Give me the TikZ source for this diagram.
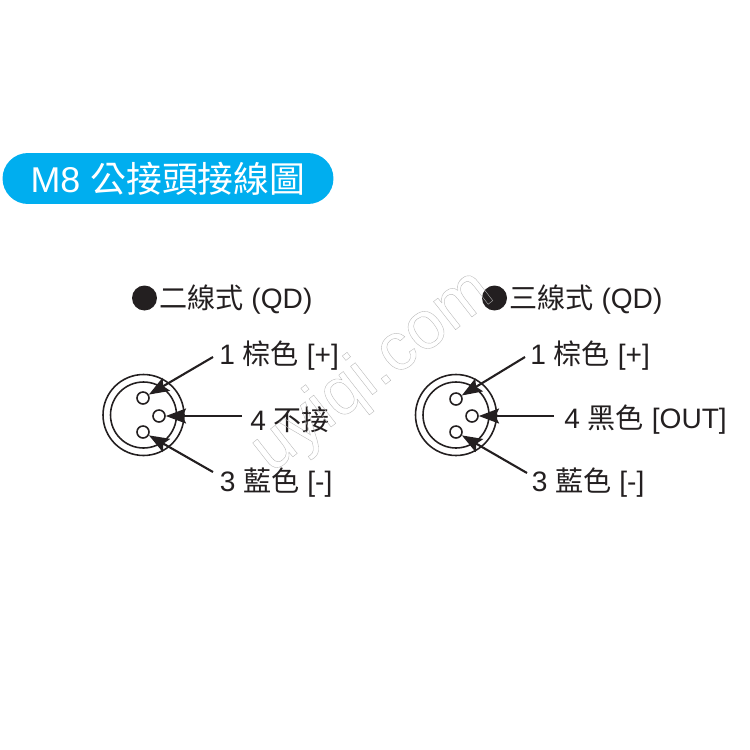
\documentclass[tikz,border=0pt]{standalone}
\usepackage{fontspec}
\setmainfont{Liberation Sans}
\newfontfamily\cjk{Noto Sans CJK TC}
\usetikzlibrary{arrows.meta}
\definecolor{bannerblue}{RGB}{0,174,239}
\definecolor{inktext}{RGB}{35,31,32}
\newcommand{\outlined}[1]{\special{pdf:code q 1 Tr 0.22 w 0.72 G}#1\special{pdf:code Q}}
\tikzset{
	banner/.style={fill=bannerblue, rounded corners=0.51cm, minimum width=6.62cm, minimum height=1.02cm, inner sep=0, text=white, font=\fontsize{20.4}{20.4}\selectfont},
	pinlabel/.style={anchor=west, inner sep=0, font=\fontsize{16}{16}\selectfont, text=inktext},
	bullet/.style={fill=inktext, circle, inner sep=0, minimum size=0.5cm},
	outerring/.style={draw=inktext, line width=0.9pt, circle, inner sep=0, minimum size=1.62cm},
	innerring/.style={draw=inktext, line width=0.9pt, circle, inner sep=0, minimum size=1.32cm},
	pinhole/.style={draw=inktext, line width=0.9pt, circle, inner sep=0, minimum size=0.24cm},
	lead/.style={draw=inktext, line width=1.2pt, -{Stealth[length=11.5pt, width=8.5pt, inset=2pt]}}
}
\begin{document}
\begin{tikzpicture}[x=0.02cm, y=-0.02cm]
	\useasboundingbox (0,0) rectangle (750,750);

	\node [banner] (title) at (168,178.5) {M8 {\cjk 公接頭接線圖}};

	% left connector
	\node [bullet] (dotleft) at (144.5,298) {};
	\node [pinlabel] (headleft) at (159,299.5) {{\cjk 二線式} (QD)};
	\node [outerring] (outerleft) at (143.5,415) {};
	\node [innerring] (innerleft) at (143.5,415) {};
	\node [pinhole] (pinleftone) at (143,398) {};
	\node [pinhole] (pinleftfour) at (159,416) {};
	\node [pinhole] (pinleftthree) at (143,432) {};
	\node [pinlabel] (labelleftone) at (219,355.5) {1 {\cjk 棕色} [+]};
	\node [pinlabel] (labelleftfour) at (250,419.5) {4 {\cjk 不接}};
	\node [pinlabel] (labelleftthree) at (219.5,482.5) {3 {\cjk 藍色} [-]};
	\coordinate (fromleftone) at (213,357);
	\coordinate (fromleftfour) at (242,416);
	\coordinate (fromleftthree) at (213,472);
	\draw [lead] (fromleftone) -- (pinleftone);
	\draw [lead] (fromleftfour) -- (pinleftfour);
	\draw [lead] (fromleftthree) -- (pinleftthree);

	% right connector
	\node [bullet] (dotright) at (494.5,298) {};
	\node [pinlabel] (headright) at (509,299.5) {{\cjk 三線式} (QD)};
	\node [outerring] (outerright) at (456,415) {};
	\node [innerring] (innerright) at (456,415) {};
	\node [pinhole] (pinrightone) at (456,399) {};
	\node [pinhole] (pinrightfour) at (472,416) {};
	\node [pinhole] (pinrightthree) at (456,432) {};
	\node [pinlabel] (labelrightone) at (530,355.5) {1 {\cjk 棕色} [+]};
	\node [pinlabel] (labelrightfour) at (564,419.5) {4 {\cjk 黑色} [OUT]};
	\node [pinlabel] (labelrightthree) at (531.5,482.5) {3 {\cjk 藍色} [-]};
	\coordinate (fromrightone) at (525,357);
	\coordinate (fromrightfour) at (554,416);
	\coordinate (fromrightthree) at (527,473);
	\draw [lead] (fromrightone) -- (pinrightone);
	\draw [lead] (fromrightfour) -- (pinrightfour);
	\draw [lead] (fromrightthree) -- (pinrightthree);

	% watermark
	\node [rotate=38, inner sep=0, font=\fontsize{38.5}{38.5}\selectfont] (stamp) at (373,372) {\outlined{uyiqi.com}};
\end{tikzpicture}
\end{document}
